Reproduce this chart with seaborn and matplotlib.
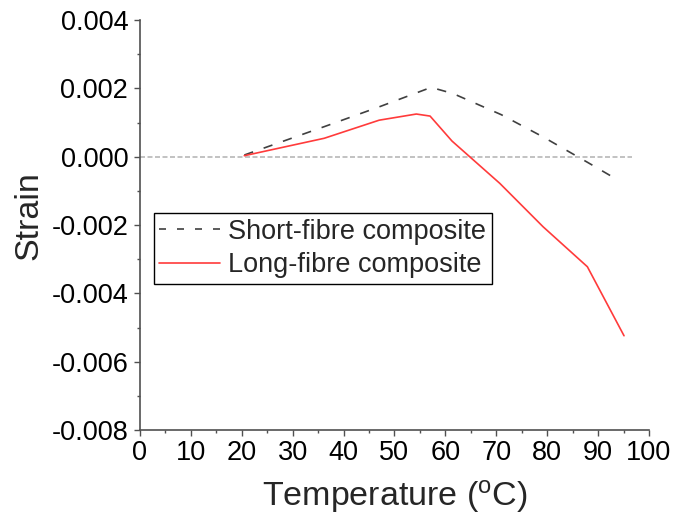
import numpy as np
import pandas as pd
import matplotlib
matplotlib.use("Agg")
import matplotlib.pyplot as plt
from matplotlib.ticker import MultipleLocator, FuncFormatter
import seaborn as sns

# Data
short_temp = [20.5, 36.2, 47.0, 57.2, 61.5, 71.0, 79.2, 88.0, 93.3]
short_strain = [0.00005, 0.00088, 0.00146, 0.00203, 0.00185, 0.00123, 0.00058, -0.00017, -0.00063]
long_temp = [20.5, 36.2, 47.0, 54.3, 57.0, 61.3, 70.7, 79.2, 87.9, 95.1]
long_strain = [0.00003, 0.00054, 0.00107, 0.00125, 0.00119, 0.00046, -0.00078, -0.00205, -0.00322, -0.00524]
zero_temp = [0.0, 96.7]
zero_strain = [0.0, 0.0]
series_names = ["Short-fibre composite", "Long-fibre composite"]

sns.set_style("ticks")
plt.rcParams["font.family"] = ["Liberation Sans", "DejaVu Sans"]
plt.rcParams["mathtext.fontset"] = "custom"
plt.rcParams["mathtext.rm"] = "Liberation Sans"

fig = plt.figure(figsize=(6.86, 5.15), dpi=100)
ax = fig.add_axes([0.204, 0.165, 0.742, 0.796])

axis_col = "#505050"
lw = 1.2

ax.plot(zero_temp, zero_strain, color="#b8b8b8", lw=1.2, ls=(0, (3, 1.5)), zorder=1)

df_s = pd.DataFrame({"T": short_temp, "S": short_strain})
df_l = pd.DataFrame({"T": long_temp, "S": long_strain})
sns.lineplot(data=df_s, x="T", y="S", ax=ax, color="#404040", lw=lw,
             label=series_names[0], sort=False)
ax.lines[-1].set_linestyle((0, (5.6, 6.7)))
sns.lineplot(data=df_l, x="T", y="S", ax=ax, color="#ff3b3b", lw=lw,
             label=series_names[1], sort=False)

ax.set_xlim(0, 100)
ax.set_ylim(-0.008, 0.004)
ax.xaxis.set_major_locator(MultipleLocator(10))
ax.xaxis.set_minor_locator(MultipleLocator(5))
ax.yaxis.set_major_locator(MultipleLocator(0.002))
ax.yaxis.set_minor_locator(MultipleLocator(0.001))
ax.yaxis.set_major_formatter(FuncFormatter(lambda v, p: f"{v:.3f}"))

for s in ["top", "right"]:
    ax.spines[s].set_visible(False)
for s in ["left", "bottom"]:
    ax.spines[s].set_color(axis_col)
    ax.spines[s].set_linewidth(1.2)

ax.tick_params(axis="both", which="major", direction="out", length=4, width=1.0,
               color=axis_col, labelsize=19.5, labelcolor="black")
ax.tick_params(axis="x", which="major", pad=3.5)
ax.tick_params(axis="y", which="major", pad=4.5)
ax.tick_params(axis="both", which="minor", direction="out", length=2.3, width=1.0,
               color=axis_col)

ax.set_xlabel(r"Temperature ($\mathregular{^o}$C)", fontsize=24.5, labelpad=8)
ax.set_ylabel("Strain", fontsize=24.5)
ax.yaxis.set_label_coords(-0.187, 0.524)

leg = ax.legend(loc="upper left", bbox_to_anchor=(0.0275, 0.529), borderaxespad=0,
                fontsize=19.5, frameon=True, fancybox=False, handlelength=2.25,
                handletextpad=0.3, labelspacing=0.28, borderpad=0.2)
leg.get_frame().set_edgecolor("black")
leg.get_frame().set_linewidth(1.0)
leg.get_frame().set_alpha(1)
leg.get_lines()[0].set_linestyle((0, (4.2, 6.6)))

fig.savefig("out.png", dpi=100)
